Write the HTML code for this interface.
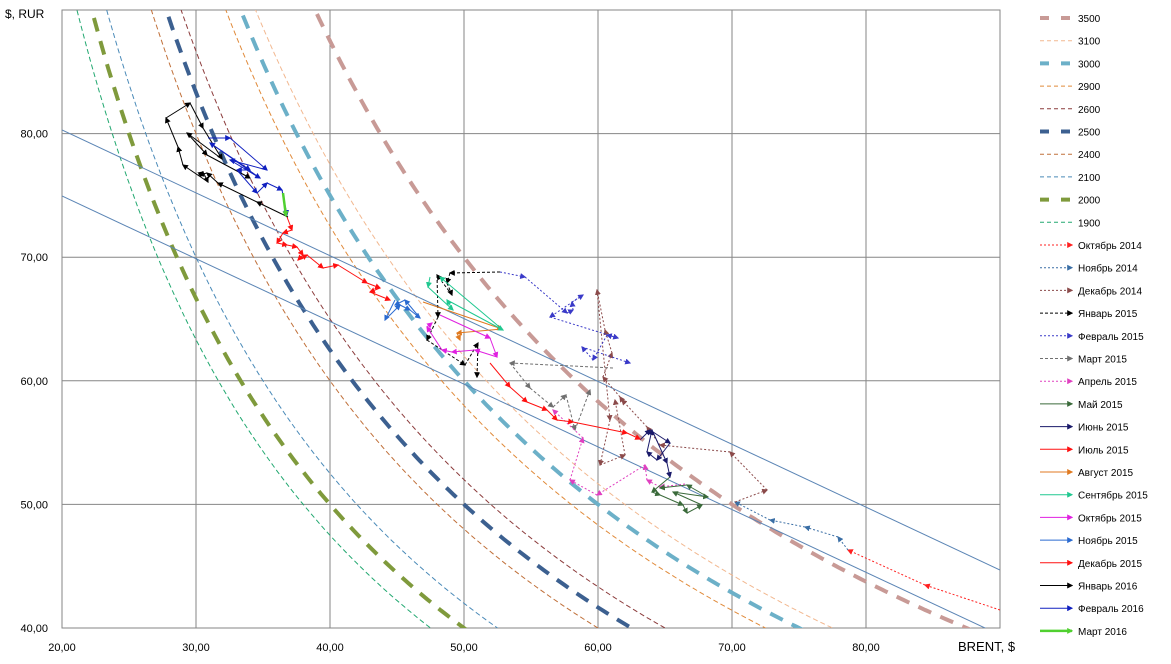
<!DOCTYPE html>
<html><head><meta charset="utf-8"><style>
html,body{margin:0;padding:0;background:#fff;overflow:hidden;}
svg{display:block;}
svg text{font-family:"Liberation Sans",sans-serif;}
</style></head><body>
<svg id="s" width="1171" height="664" xmlns="http://www.w3.org/2000/svg">
<defs><clipPath id="cp"><rect x="62" y="10" width="938" height="618"/></clipPath></defs>
<rect width="1171" height="664" fill="#fff"/>
<g id="grid" stroke="#868686" stroke-width="1"></g>
<g id="curves" clip-path="url(#cp)" fill="none"></g>
<g clip-path="url(#cp)" stroke="#5b85b5" stroke-width="1">
<line x1="62" y1="130" x2="1000" y2="570"/>
<line x1="62" y1="196" x2="1000" y2="635"/>
</g>
<g id="series" fill="none"></g>
<g id="labels" font-size="11" fill="#000"></g>
<text x="5" y="18" font-size="12">$, RUR</text>
<text x="958" y="651" font-size="13">BRENT, $</text>
<g id="legend" font-size="10"></g>
</svg>
<script>
const NS="http://www.w3.org/2000/svg";
function el(p,t,a,txt){const e=document.createElementNS(NS,t);for(const k in a)e.setAttribute(k,a[k]);if(txt!==undefined)e.textContent=txt;p.appendChild(e);return e;}
const X=v=>62+(v-20)*13.4, Y=v=>628-(v-40)*12.36;
const g=document.getElementById('grid');
el(g,'rect',{x:62,y:10,width:938,height:618,fill:'none'});
for(let v=30;v<=80;v+=10)el(g,'line',{x1:X(v),y1:10,x2:X(v),y2:628});
for(let v=50;v<=80;v+=10)el(g,'line',{x1:62,y1:Y(v),x2:1000,y2:Y(v)});
const lb=document.getElementById('labels');
for(let v=40;v<=80;v+=10)el(lb,'text',{x:48,y:Y(v)+4,'text-anchor':'end'},v+',00');
for(let v=20;v<=80;v+=10)el(lb,'text',{x:X(v),y:651,'text-anchor':'middle'},v+',00');
const curves=[
[3500,'#c89a96',4,'14 10'],[3100,'#f2b890',1,'5 3'],[3000,'#6cb0c8',4,'14 10'],[2900,'#e08a3a',1,'5 3'],
[2600,'#8c3c3c',1,'5 3'],[2500,'#3c6090',4,'14 10'],[2400,'#c0703a',1,'5 3'],[2100,'#4a8ab8',1,'5 3'],
[2000,'#7f9a3c',4,'14 10'],[1900,'#22a870',1,'5 3']];
const cg=document.getElementById('curves');
curves.forEach(c=>{let d='';for(let i=0;i<=200;i++){const x=c[0]/95+ (90-c[0]/95)*i/200;const y=c[0]/x;d+=(i?'L':'M')+X(x).toFixed(1)+','+Y(y).toFixed(1);}
el(cg,'path',{d:d,stroke:c[1],'stroke-width':c[2],'stroke-dasharray':c[3]});});
const defs=document.querySelector('defs');
function marker(col){const id='m'+col.replace('#','');if(!document.getElementById(id)){const m=el(defs,'marker',{id:id,viewBox:'0 0 10 10',refX:8,refY:5,markerWidth:6,markerHeight:6,orient:'auto',markerUnits:'userSpaceOnUse'});el(m,'path',{d:'M0,0L10,5L0,10z',fill:col});}return 'url(#'+id+')';}
const S=[
['Октябрь 2014','#ff2020','2 2',1,[[1000,610],[925,585],[848,550]]],
['Ноябрь 2014','#3a6ea5','2 2',1,[[848,550],[838,537],[805,527],[770,520],[735,502]]],
['Декабрь 2014','#8b4a4a','2 2',1,[[735,502],[767,490],[730,452],[660,445],[647,427],[622,400],[620,397],[603,377],[612,353],[605,330],[597,290],[610,420],[600,465],[625,455],[615,400]]],
['Январь 2015','#000','3 2',1,[[500,272],[450,273],[447,283],[452,295],[437,275],[438,317],[427,340],[465,365],[478,343],[477,377]]],
['Февраль 2015','#3a3ac8','2 2',1,[[500,272],[525,277],[567,313],[573,310],[572,302],[583,295],[550,317],[618,338],[607,335],[593,360],[582,347],[630,363]]],
['Март 2015','#707070','3 2',1,[[613,368],[510,363],[530,388],[553,407],[566,395],[575,430],[590,390]]],
['Апрель 2015','#e040c0','2 2',1,[[685,484],[660,487],[647,480],[645,465],[597,495],[570,480],[583,438],[553,410]]],
['Май 2015','#3a6a3a','',1,[[670,477],[652,492],[660,495],[683,505],[687,513],[702,505],[673,492],[708,497],[687,485],[660,488]]],
['Июнь 2015','#1a1a6a','',1,[[640,440],[650,430],[670,443],[657,460],[647,452],[652,430],[667,463],[670,477]]],
['Июль 2015','#ff1010','',1,[[490,363],[510,387],[527,402],[547,410],[557,420],[573,422],[627,433],[640,439]]],
['Август 2015','#e07a20','',1,[[423,302],[502,329],[457,333],[460,340]]],
['Сентябрь 2015','#20c890','',1,[[430,277],[428,287],[453,310],[447,300],[503,330],[440,277]]],
['Октябрь 2015','#e020e0','',1,[[440,315],[490,338],[497,357],[475,350],[452,352],[442,350],[427,327],[432,323]]],
['Ноябрь 2015','#2a6ad0','',1,[[395,300],[385,320],[400,305],[410,310],[420,318],[405,300],[395,305]]],
['Декабрь 2015','#ff1010','',1,[[287,217],[292,230],[283,233],[277,243],[287,245],[297,247],[303,255],[298,260],[307,255],[323,268],[338,265],[367,283],[380,288],[370,292],[390,300]]],
['Январь 2016','#000','',1,[[288,217],[257,202],[218,183],[207,173],[199,175],[203,172],[208,182],[183,165],[178,147],[166,118],[190,103],[203,128],[222,159],[187,133],[207,155],[250,178]]],
['Февраль 2016','#1020c0','',1,[[208,138],[230,138],[267,170],[230,160],[260,178],[210,143],[250,170],[237,170],[257,193],[267,183],[282,190],[287,215]]],
['Март 2016','#50d030','',2.5,[[283,193],[286,216]]]];
const sg=document.getElementById('series');
S.forEach(s=>{const m=marker(s[1]);for(let i=1;i<s[4].length;i++){const a=s[4][i-1],b=s[4][i];const at={x1:a[0],y1:a[1],x2:b[0],y2:b[1],stroke:s[1],'stroke-width':s[3],'marker-end':m};if(s[2])at['stroke-dasharray']=s[2];el(sg,'line',at);}});
const lg=document.getElementById('legend');
let y=18;
curves.forEach(c=>{el(lg,'line',{x1:1040,y1:y,x2:1072,y2:y,stroke:c[1],'stroke-width':c[2],'stroke-dasharray':c[2]>2?'9 12':'4 3'});el(lg,'text',{x:1078,y:y+4},c[0]);y+=22.7;});
S.forEach(s=>{const at={x1:1040,y1:y,x2:1072,y2:y,stroke:s[1],'stroke-width':s[3],'marker-end':marker(s[1])};if(s[2])at['stroke-dasharray']=s[2];el(lg,'line',at);el(lg,'text',{x:1078,y:y+4},s[0]);y+=22.7;});
</script>
</body></html>
